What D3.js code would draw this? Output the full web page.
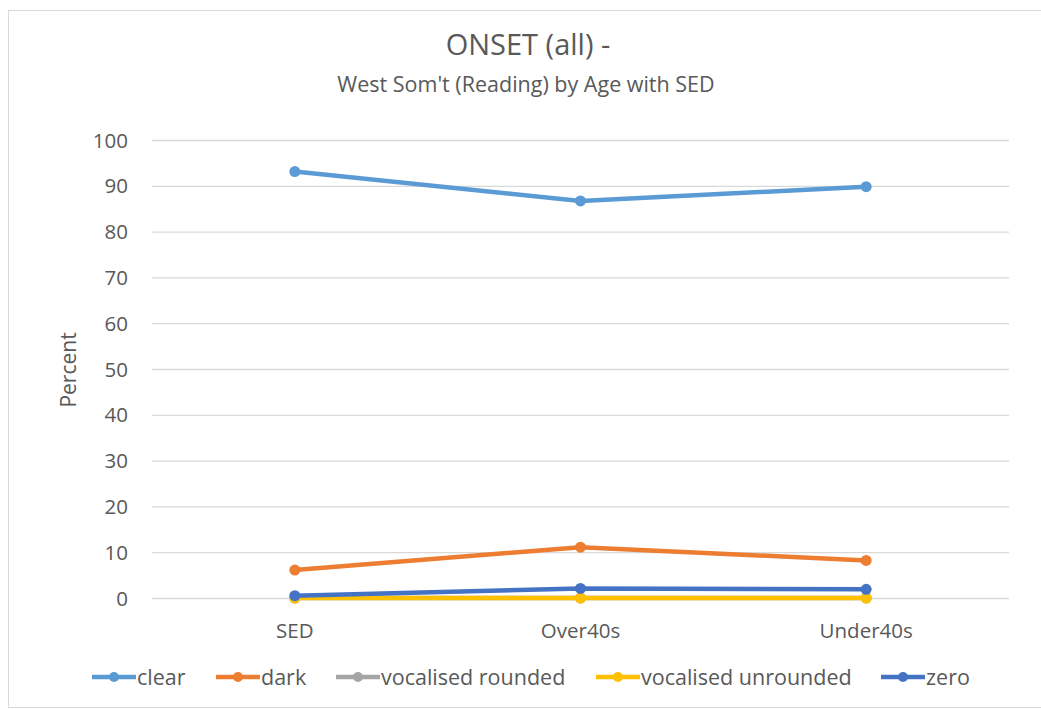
<!DOCTYPE html>
<html><head><meta charset="utf-8">
<script src="https://cdn.jsdelivr.net/npm/d3@7"></script>
<style>body{margin:0;background:#fff}svg{display:block}text{font-family:"Open Sans",sans-serif;fill:#595959}</style>
</head><body><svg id="c" width="1041" height="709"></svg>
<script>
const categories = ["SED","Over40s","Under40s"];
const seriesNames = ["clear","dark","vocalised rounded","vocalised unrounded","zero"];
const clear = [93.1, 86.7, 89.8];
const dark = [6.1, 11.1, 8.2];
const vocalisedRounded = [0, 0, 0];
const vocalisedUnrounded = [0, 0, 0];
const zero = [0.5, 2.1, 1.9];
const yTicks = [0,10,20,30,40,50,60,70,80,90,100];
const colors = ["#5B9BD5","#ED7D31","#A5A5A5","#FFC000","#4472C4"];
const seriesValues = [clear, dark, vocalisedRounded, vocalisedUnrounded, zero];

const svg = d3.select("#c");
svg.append("rect").attr("x",8.5).attr("y",10.5).attr("width",1040).attr("height",697)
  .attr("fill","#fff").attr("stroke","#d9d9d9");

const x = d3.scaleBand().domain(categories).range([152,1009]);
const y = d3.scaleLinear().domain([0,100]).range([598,140]);

svg.append("text").attr("x",528).attr("y",55).attr("text-anchor","middle")
  .style("font-size","29px").text("ONSET (all) -");
svg.append("text").attr("x",526).attr("y",92).attr("text-anchor","middle")
  .style("font-size","21.5px").text("West Som't (Reading) by Age with SED");

const yAxis = svg.append("g").attr("transform","translate(152,0)")
  .call(d3.axisLeft(y).tickValues(yTicks).tickSize(-857).tickPadding(24));
yAxis.select(".domain").remove();
yAxis.selectAll("line").attr("stroke","#d9d9d9").attr("stroke-width",1.3);
yAxis.selectAll("text").style("font-size","20.5px").attr("fill","#595959").attr("dy","0.35em");

const xAxis = svg.append("g").attr("transform","translate(0,598)")
  .call(d3.axisBottom(x).tickSize(0).tickPadding(25));
xAxis.select(".domain").remove();
xAxis.selectAll("text").style("font-size","20.5px").attr("fill","#595959");

svg.append("text").attr("transform","translate(76,370) rotate(-90)").attr("text-anchor","middle")
  .style("font-size","21px").text("Percent");

const line = d3.line().x((d,i)=>x(categories[i])+x.bandwidth()/2).y(d=>y(d));
seriesValues.forEach((vals,k)=>{
  const g = svg.append("g");
  g.append("path").attr("d",line(vals)).attr("fill","none").attr("stroke",colors[k])
    .attr("stroke-width",4.5).attr("stroke-linejoin","round").attr("stroke-linecap","round");
  g.selectAll("circle").data(vals).join("circle")
    .attr("cx",(d,i)=>x(categories[i])+x.bandwidth()/2).attr("cy",d=>y(d)).attr("r",5.5)
    .attr("fill",colors[k]);
});

const legX = [92,216,336,596,881];
const leg = svg.append("g");
seriesNames.forEach((n,k)=>{
  const g = leg.append("g").attr("transform",`translate(${legX[k]},677)`);
  g.append("line").attr("x1",0).attr("x2",44).attr("stroke",colors[k]).attr("stroke-width",4.5);
  g.append("circle").attr("cx",22).attr("r",5).attr("fill",colors[k]);
  g.append("text").attr("x",45).attr("dy","0.35em").style("font-size","21.5px").text(n);
});
</script></body></html>
